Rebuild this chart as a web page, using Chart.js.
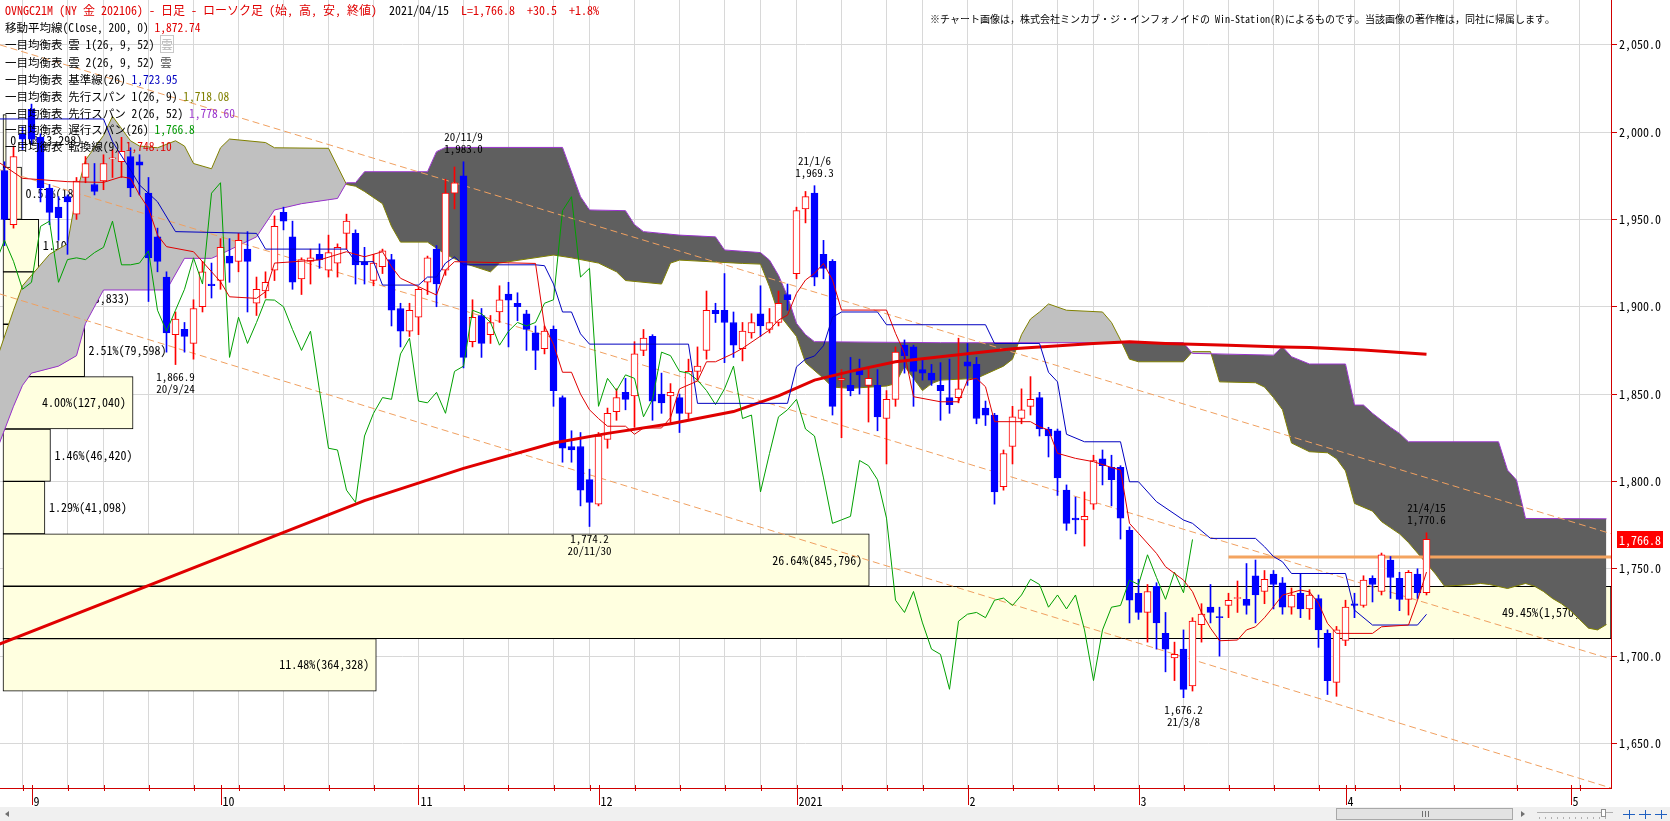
<!DOCTYPE html>
<html lang="ja">
<head>
<meta charset="utf-8">
<title>OVNGC21M 日足 一目均衡表</title>
<script src="https://cdn.jsdelivr.net/npm/chart.js@4.4.1/dist/chart.umd.min.js"></script>
<style>
  html, body { margin: 0; padding: 0; background: #fff; }
  #wrap { position: relative; width: 1670px; height: 821px; overflow: hidden; }
  #chart { position: absolute; left: 0; top: 0; }
  .lg { position: absolute; left: 5px; white-space: pre; font-family: 'Noto Sans Mono CJK JP', 'Noto Sans CJK JP', monospace; font-size: 11.5px; line-height: 14px; color: #000; }
  .r { color: #e00000; }
  .b { color: #0000c0; }
  .o { color: #808000; }
  .p { color: #9933cc; }
  .g { color: #009900; }
  .i1 { color: #b4b4b4; border: 1px solid #c8c8c8; }
  .i2 { color: #505050; }
  #note { position: absolute; left: 930px; top: 12px; white-space: pre; font-family: 'Noto Sans Mono CJK JP', 'Noto Sans CJK JP', sans-serif; font-size: 10px; line-height: 14px; color: #000; }
</style>
</head>
<body>
<div id="wrap">
  <canvas id="chart" width="1670" height="821"></canvas>
  <div class="lg" style="top:3px;font-size:12px"><span class="r">OVNGC21M (NY 金 202106) - 日足 - ローソク足 (始, 高, 安, 終値)</span>  2021/04/15  <span class="r">L=1,766.8  +30.5  +1.8%</span></div>
  <div class="lg" style="top:20px">移動平均線(Close, 200, 0) <span class="r">1,872.74</span></div>
  <div class="lg" style="top:37px">一目均衡表 雲 1(26, 9, 52) <span class="i1">雲</span></div>
  <div class="lg" style="top:55px">一目均衡表 雲 2(26, 9, 52) <span class="i2">雲</span></div>
  <div class="lg" style="top:72px">一目均衡表 基準線(26) <span class="b">1,723.95</span></div>
  <div class="lg" style="top:89px">一目均衡表 先行スパン 1(26, 9) <span class="o">1,718.08</span></div>
  <div class="lg" style="top:106px">一目均衡表 先行スパン 2(26, 52) <span class="p">1,778.60</span></div>
  <div class="lg" style="top:122px">一目均衡表 遅行スパン(26) <span class="g">1,766.8</span></div>
  <div class="lg" style="top:139px">一目均衡表 転換線(9) <span class="r">1,748.10</span></div>
  <div id="note">※チャート画像は，株式会社ミンカブ・ジ・インフォノイドの Win-Station(R)によるものです。当該画像の著作権は，同社に帰属します。</div>
</div>
<script>
// bar index 0 = 2020/09/01, one step per trading day
const firstBar = -3;
const openP = [1978,1947,1999,2013,1997,1968,1957,1963,1953,1974,1970,1972,1984.6,1983,1986,1983,1965,1940,1917,1884,1887,1879,1900,1913,1915,1929,1926,1933,1902,1909,
  1921,1954,1940,1916,1926,1930,1921,1925,1942,1942,1925.5,1915,1923,1927,1899,1886,1894,1914,1933,1921,1965,1975,1880,1895,1884,1897,1907.3,1902,1896,1885,
  1876,1887,1848,1820,1820,1801,1787,1824,1840,1851,1849,1875,1883,1850,1849,1848,1839,1863,1875,1898,1898,1891,1876,1885,1896,1887,1891,1907,1919,1956,
  1965,1930,1926,1858,1855,1864,1855,1855,1836,1847,1878,1877,1864,1862,1855,1848,1848,1868.5,1867,1842,1838,1797,1820,1836,1843,1848,1830,1829,1795,1779,
  1778,1787,1813,1808,1808,1772,1736,1725,1740,1713,1699,1704,1683,1718,1728,1722.7,1729,1733,1732.5,1746,1737,1747,1742,1728,1736,1727,1733,1713,1685,1709,
  1730,1729,1744.5,1737,1755,1744.5,1732.5,1747,1736.3];
const highP = [1983,1992,2003,2016,1999,1970,1963,1964,1974,1986,1982,1987,1990,1997,1991,1987,1974,1945,1920,1897,1891,1904,1926,1925,1939,1939,1942,1943,1917,1920,
  1952,1957,1949,1928,1933,1936,1941,1936,1953,1944,1934,1930,1933,1930,1902,1902,1911,1929,1935,1973,1980,1983,1904,1899,1895,1912,1914,1908,1898,1889,
  1889,1889,1849,1829,1828,1807,1828,1842,1853,1859,1880,1887,1884,1862,1856,1850,1870,1877,1909,1902,1919,1897,1891,1896,1912,1899,1909,1913,1957,1966,
  1969.3,1938,1927,1864,1871,1870,1865,1864,1852,1877,1881,1878,1870,1867,1868,1870,1882,1879,1871,1846,1839,1818,1843,1853,1860,1851,1831,1830,1798,1791,
  1794,1815,1818,1815,1809,1774,1744,1741,1742,1725,1708,1715,1722,1730,1741,1728,1736,1743,1753,1755,1749,1749,1745,1739,1747,1738,1735,1715,1717,1732,
  1736,1746,1746,1759,1757,1748,1749,1750,1770.6];
const lowP = [1935,1945,1990,1993,1960,1947,1938,1930,1950,1971,1964,1967,1974,1974,1963,1964,1903,1920,1874,1866.9,1874,1870,1897,1905,1910,1914,1920,1897,1895,1905,
  1915,1944,1910,1907,1913,1922,1917,1917,1933,1913,1913,1912,1919,1889,1877,1883,1884,1907,1900,1918,1956,1865,1877,1871,1879,1891,1877,1892,1875,1864,
  1873,1843,1811,1811,1786,1774.2,1786,1819,1835,1841,1831,1872,1835,1839,1833,1828,1836,1858,1870,1891,1868,1871,1869,1882,1883,1885,1889,1898,1916,1948,
  1912,1916,1838,1825,1849,1850,1834,1829,1810,1843,1862,1843,1858,1855,1835,1839,1845,1855,1833,1832,1787,1795,1810,1833,1838,1826,1814,1792,1772,1770,
  1763,1784,1798,1786,1767,1719,1721,1708,1704,1691,1686,1676.2,1680,1708,1719,1700,1722,1725,1724,1719,1730,1727,1724,1724,1722,1721,1705,1678,1677,1706,
  1722,1728,1731,1735,1733,1726,1723.5,1733,1735];
const closeP = [1950,1986,1996,1996,1968,1954,1951,1960,1972,1982,1966,1982,1985.3,1989,1968,1981,1928,1926,1885,1893,1883,1899,1920,1912,1934,1925,1938,1926,1910,1914,
  1946,1949,1914,1927,1928,1927,1931,1934,1949,1924,1924,1925,1932,1898,1886,1898,1910,1928,1913,1965,1971,1871,1894,1879,1891,1904,1903.8,1900,1887,1875,
  1886,1852,1819,1818,1795,1788,1826,1839,1848,1847,1873,1882,1846,1845,1851,1839,1863,1866,1898,1896,1891,1878,1886,1891,1889,1891,1902,1904,1955,1963,
  1917,1922,1843,1859,1852,1861,1859,1837,1847,1874,1872,1863,1862,1858,1852,1844,1853,1866,1836,1838,1794,1816,1837,1841,1847,1830,1826,1802,1776,1778,
  1780,1812,1809,1801,1779,1732,1725,1737,1719,1704,1701,1681,1720,1724,1725,1722,1732,1733.2,1729,1735,1744,1741,1728,1735,1727,1735,1715,1686,1715,1728,
  1729,1743.5,1741,1758,1745,1732.5,1748,1736.3,1766.8];

// axis ticks: month starts and week starts (bar index)
const monthTickIdx = [0, 21, 43, 63, 85, 104, 123, 146, 171];
const monthLabels = ['9', '10', '11', '12', '2021', '2', '3', '4', '5'];
const weekTickIdx = [-1, 4, 8, 13, 18, 23, 28, 33, 38, 43, 48, 53, 58, 62, 67, 72, 77, 81, 85, 90, 95, 99, 104, 109, 114, 118, 123, 128, 133, 138, 143, 147, 152, 158, 165, 172];
const priceTicks = [1650, 1700, 1750, 1800, 1850, 1900, 1950, 2000, 2050];

// indicator lines: [bar index, price]
const ma200Pts = [[-4,1706],[37,1789],[48,1807.5],[58,1822],[64,1827.5],[71,1833],[78,1840],[83,1849],[87,1858],[91,1863],[96,1868.5],[101,1871.4],[109,1876],[118,1879],[122,1880],[126,1879],[133,1878],[139,1877],[142,1876.7],[148,1875.2],[155,1872.74]];
const kijunPts = [[-4,2007.5],[8,2007.5],[9,1994.5],[11,1978.3],[12,1969.7],[14,1960.1],[16,1943],[25,1942],[26,1933],[35,1933],[36,1925.8],[38,1925.8],[39,1912.4],[43,1912.4],[44,1917],[45,1917],[46,1925],[47,1928.5],[48,1924],[56,1924],[57,1923.5],[58,1913],[59,1897],[60,1897],[61,1884.5],[62,1878.6],[73,1878.6],[74,1844.7],[84,1844.7],[85,1865.6],[86,1870],[87,1871.8],[88,1877.7],[89,1894],[90,1897],[94,1897],[95,1889.7],[106,1889.7],[107,1879],[112,1879],[113,1862.5],[114,1857],[115,1827],[117,1822.7],[121,1822.7],[122,1799.8],[123,1799.8],[125,1788.4],[128,1777.9],[129,1776],[131,1767.4],[136,1767.4],[137,1762.6],[138,1757],[139,1754],[140,1747.3],[146,1747.3],[147,1726.3],[149,1717.8],[154,1717.8],[155,1723.95]];
const tenkanPts = [[-4,1984],[-1,1973.5],[4,1971.6],[8,1971.2],[10,1974.4],[11,1973.5],[12,1964],[13,1956.3],[14,1941],[15,1934.4],[18,1931.5],[19,1925.8],[21,1914.3],[22,1905.7],[25,1904.8],[26,1908.6],[27,1925],[32,1926.8],[35,1931.5],[37,1928.6],[39,1931.5],[40,1922.9],[41,1916.3],[43,1911.5],[45,1906.7],[46,1921],[47,1925.8],[56,1924.8],[57,1889],[58,1878.5],[59,1862.5],[60,1862.5],[61,1850],[62,1841],[63,1836],[64,1831.6],[66,1831.6],[67,1827],[68,1830.6],[70,1830.6],[71,1836.5],[72,1853],[74,1857.5],[75,1868.5],[76,1868.5],[78,1873.3],[79,1876.2],[82,1886.7],[83,1892.4],[84,1895.2],[85,1907.7],[86,1915.3],[87,1919.1],[88,1924.8],[89,1915.3],[90,1898.1],[95,1898.1],[96,1884.8],[97,1873.3],[98,1848.5],[101,1845.6],[103,1845.6],[104,1858],[105,1859],[106,1854.2],[107,1834.2],[111,1834.2],[112,1831.3],[113,1829.4],[114,1816.1],[116,1813.2],[118,1811.3],[120,1808],[121,1806.5],[122,1776],[123,1770.3],[125,1758.8],[126,1751.2],[128,1743.5],[129,1736.9],[130,1725],[131,1716],[132,1708.8],[134,1709.2],[135,1715],[136,1716.8],[137,1722],[138,1728.3],[139,1734.9],[141,1737.8],[142,1736.8],[143,1730.2],[144,1718.7],[145,1713],[149,1713],[150,1716.8],[153,1717.8],[154,1732],[155,1748.1]];
const spanAPts = [[-4,1868],[-2,1898],[-1,1912],[2,1930],[4,1936],[5,1965],[6,1984],[8,1998],[9,2009],[11,1995],[12,1992],[14,1991],[16,1995],[17,1992],[18,1982],[20,1979],[21,1991],[22,1996],[26,1994],[27,1991],[33,1990.7],[35,1970],[36,1969],[37,1966],[39,1959],[40,1946],[41,1937],[44,1937],[46,1930],[48,1925],[51,1920],[52,1925],[58,1929.6],[60,1928],[63,1925],[65,1920],[66,1915],[70,1913],[71,1925],[72,1926.7],[79,1924.8],[81,1924.4],[82,1911.5],[83,1896],[85,1883],[86,1868],[88,1859],[89,1854],[91,1853.3],[95,1854.6],[96,1856],[97,1866],[99,1852],[100,1856],[101,1858],[105,1859],[108,1866],[109,1870],[110,1884],[111,1893],[112,1897],[113,1901.6],[115,1898],[119,1897],[120,1891],[121,1881],[122,1870],[123,1868.5],[128,1868.5],[129,1874.3],[131,1874.3],[132,1857],[136,1856.5],[137,1854],[138,1848],[139,1841],[140,1822],[142,1817],[144,1816.4],[145,1813],[146,1806],[147,1787.4],[149,1783],[150,1777],[152,1770],[153,1765],[154,1759],[155,1753],[156,1747],[157,1740],[160,1741],[161,1741.6],[162,1741],[164,1738.7],[166,1741.6],[167,1740],[168,1737],[169,1733],[170,1730],[171,1726],[172,1721],[173,1716],[174,1715],[175,1718.08]];
const spanBPts = [[-4,1816],[-2,1843],[-1,1855],[0,1862],[3,1866],[5,1872],[6,1890.5],[8,1909.6],[15,1909.6],[17,1927.7],[20,1927.7],[21,1930],[25,1940],[27,1955.4],[30,1959],[34,1962],[35,1971],[36,1971],[37,1977.3],[44,1977.3],[45,1988.8],[46,1991.2],[59,1991.2],[61,1963],[62,1955.4],[66,1955],[67,1947],[68,1943],[72,1941],[76,1940],[77,1932.5],[81,1931],[82,1926.7],[83,1918],[84,1906],[85,1890.5],[86,1884],[87,1880],[101,1879.4],[128,1879.4],[129,1873.3],[138,1872.3],[139,1877.1],[140,1871.4],[142,1867.2],[146,1867.2],[147,1843.7],[148,1843.7],[149,1839],[150,1835],[151,1831],[152,1827.5],[153,1822.7],[163,1822.7],[164,1806.5],[165,1800.8],[166,1778.8],[175,1778.6]];

// drawn trend lines and the horizontal resistance line
const trendLines = [
  [[-3.5, 2049.9], [175.5, 1770.1]],
  [[-3.5, 1978.4], [175.5, 1698.3]],
  [[-3.5, 1907.3], [175.5, 1624.5]]
];
const resistLine = [[133, 1756.8], [175.5, 1756.8]];

// volume by price (30 wide bins)
const vpBin = 30;
const vpLow = [1980, 1950, 1920, 1890, 1860, 1830, 1800, 1770, 1740, 1710, 1680];
const vpPct = [0.10, 0.57, 1.10, 1.38, 2.51, 4.00, 1.46, 1.29, 26.64, 49.45, 11.48];
const vpVol = [3298, 18097, 34924, 43833, 79598, 127040, 46420, 41098, 845796, 1570010, 364328];

// high / low notes
const hiLoIdx = [48, 87, 155, 16, 62, 128];
const hiLoDate = ['20/11/9', '21/1/6', '21/4/15', '20/9/24', '20/11/30', '21/3/8'];
const hiLoAbove = [true, true, true, false, false, false];

const monoFont = "'Noto Sans Mono CJK JP', 'DejaVu Sans Mono', monospace";
const fmt1 = v => v.toLocaleString('en-US', {minimumFractionDigits: 1, maximumFractionDigits: 1});
const toPts = a => a.map(p => ({x: p[0], y: p[1]}));

const bars = openP.map((_, k) => firstBar + k);
const isUp = closeP.map((c, k) => c >= openP[k]);
const candleColor = isUp.map(u => u ? '#ff0000' : '#0000ff');
const bodyFill = isUp.map(u => u ? '#ffffff' : '#0000ff');
const chikouData = bars.map((x, k) => ({x: x - 26, y: closeP[k]})).filter(p => p.x >= -4);

const weekSet = new Set(weekTickIdx);
const monthMap = new Map(monthTickIdx.map((v, k) => [v, monthLabels[k]]));
const xTickIdx = Array.from(new Set(weekTickIdx.concat(monthTickIdx))).sort((a, b) => a - b);

const yMin = 1624.5, yMax = 2075.6;

const lineDs = (label, data, color, width, order, extra) => Object.assign({
  type: 'line', label: label, data: data, borderColor: color, borderWidth: width,
  pointRadius: 0, tension: 0, fill: false, order: order, xAxisID: 'x', yAxisID: 'y'
}, extra || {});

const decor = {
  id: 'decor',
  afterDatasetDraw(chart, args) {
    if (args.index !== 0) return;
    const {ctx, chartArea} = chart;
    const xs = chart.scales.xv, ys = chart.scales.yv;
    ctx.save();
    ctx.beginPath();
    ctx.rect(chartArea.left, chartArea.top, chartArea.width, chartArea.height);
    ctx.clip();
    ctx.font = '12px ' + monoFont;
    ctx.fillStyle = '#000';
    ctx.textBaseline = 'middle';
    vpLow.forEach((lo, k) => {
      const txt = vpPct[k].toFixed(2) + '%(' + vpVol[k].toLocaleString('en-US') + ')';
      const w = ctx.measureText(txt).width;
      const x0 = xs.getPixelForValue(0), x1 = xs.getPixelForValue(vpPct[k]);
      const y = ys.getPixelForValue(lo + vpBin / 2);
      if (x1 - x0 > w + 12) {
        ctx.textAlign = 'right';
        ctx.fillText(txt, x1 - 7, y);
      } else {
        ctx.textAlign = 'left';
        ctx.fillText(txt, x1 + 4, y);
      }
    });
    ctx.restore();
  },
  afterDatasetsDraw(chart) {
    const {ctx} = chart;
    const x = chart.scales.x, y = chart.scales.y;
    ctx.save();
    ctx.font = '11px ' + monoFont;
    ctx.fillStyle = '#000';
    ctx.textAlign = 'center';
    ctx.textBaseline = 'middle';
    hiLoIdx.forEach((i, n) => {
      const k = i - firstBar;
      const px = x.getPixelForValue(i);
      if (hiLoAbove[n]) {
        const py = y.getPixelForValue(highP[k]);
        ctx.fillText(fmt1(highP[k]), px, py - 13);
        ctx.fillText(hiLoDate[n], px, py - 25);
      } else {
        const py = y.getPixelForValue(lowP[k]);
        ctx.fillText(fmt1(lowP[k]), px, py + 12);
        ctx.fillText(hiLoDate[n], px, py + 24);
      }
    });
    ctx.restore();
  },
  afterDraw(chart) {
    const {ctx, chartArea} = chart;
    const xs = chart.scales.x, ys = chart.scales.y;
    const bottom = chartArea.bottom;
    ctx.save();
    // x tick marks
    ctx.strokeStyle = '#d00000';
    ctx.lineWidth = 1;
    xTickIdx.forEach(v => {
      const px = Math.round(xs.getPixelForValue(v)) + 0.5;
      ctx.beginPath();
      ctx.moveTo(px, bottom - 3);
      ctx.lineTo(px, bottom + (monthMap.has(v) ? 17 : 3));
      ctx.stroke();
    });
    // last price tag
    const last = closeP[closeP.length - 1];
    const py = ys.getPixelForValue(last);
    ctx.fillStyle = '#ff0000';
    ctx.fillRect(chartArea.right + 6, Math.round(py) - 8, 46, 17);
    ctx.fillStyle = '#ffffff';
    ctx.font = '12px ' + monoFont;
    ctx.textAlign = 'left';
    ctx.textBaseline = 'middle';
    ctx.fillText(fmt1(last), chartArea.right + 8, py + 1);
    // scroll bar strip
    const sbTop = bottom + 19, W = chart.width, H = chart.height;
    ctx.fillStyle = '#f0f0f0';
    ctx.fillRect(0, sbTop, W, H - sbTop);
    ctx.fillStyle = '#707070';
    ctx.beginPath();
    ctx.moveTo(5, sbTop + 7); ctx.lineTo(9, sbTop + 4); ctx.lineTo(9, sbTop + 10); ctx.closePath(); ctx.fill();
    const t0 = chartArea.right - 275, t1 = chartArea.right - 98;
    ctx.fillStyle = '#e2e2e2';
    ctx.fillRect(t0, sbTop + 1, t1 - t0, H - sbTop - 2);
    ctx.strokeStyle = '#a8a8a8';
    ctx.strokeRect(t0 + 0.5, sbTop + 1.5, t1 - t0 - 1, H - sbTop - 3);
    ctx.strokeStyle = '#707070';
    [-3, 0, 3].forEach(d => {
      const gx = Math.round((t0 + t1) / 2 + d) + 0.5;
      ctx.beginPath(); ctx.moveTo(gx, sbTop + 4); ctx.lineTo(gx, sbTop + 10); ctx.stroke();
    });
    ctx.fillStyle = '#707070';
    ctx.beginPath();
    ctx.moveTo(t1 + 12, sbTop + 7); ctx.lineTo(t1 + 8, sbTop + 4); ctx.lineTo(t1 + 8, sbTop + 10); ctx.closePath(); ctx.fill();
    ctx.strokeStyle = '#b0b0b0';
    ctx.beginPath(); ctx.moveTo(t1 + 24, sbTop + 5.5); ctx.lineTo(chartArea.right + 2, sbTop + 5.5); ctx.stroke();
    for (let gx = t1 + 26; gx < chartArea.right; gx += 6) {
      ctx.beginPath(); ctx.moveTo(gx + 0.5, sbTop + 10); ctx.lineTo(gx + 0.5, sbTop + 12); ctx.stroke();
    }
    ctx.fillStyle = '#ffffff';
    ctx.fillRect(chartArea.right - 10, sbTop + 2, 5, 8);
    ctx.strokeStyle = '#909090';
    ctx.strokeRect(chartArea.right - 9.5, sbTop + 2.5, 4, 7);
    ctx.strokeStyle = '#2060c0';
    [12, 28, 44].forEach(d => {
      const ix = chartArea.right + d;
      ctx.beginPath(); ctx.moveTo(ix, sbTop + 7.5); ctx.lineTo(ix + 12, sbTop + 7.5); ctx.stroke();
      ctx.beginPath(); ctx.moveTo(ix + 6.5, sbTop + 3); ctx.lineTo(ix + 6.5, sbTop + 12); ctx.stroke();
    });
    ctx.restore();
  }
};

new Chart(document.getElementById('chart'), {
  type: 'bar',
  data: {
    datasets: [
      {
        type: 'bar', label: '価格帯別出来高', indexAxis: 'y', xAxisID: 'xv', yAxisID: 'yv',
        data: vpLow.map((lo, k) => ({y: lo + vpBin / 2, x: [0, vpPct[k]]})),
        backgroundColor: '#ffffe0', borderColor: '#000000', borderWidth: 1, borderSkipped: false,
        categoryPercentage: 1, barPercentage: 1, grouped: false, order: 20
      },
      lineDs('先行スパン1', toPts(spanAPts), '#808000', 1, 19, {fill: {target: 2, above: '#c0c0c0', below: '#5f5f5f'}}),
      lineDs('先行スパン2', toPts(spanBPts), '#9933cc', 1, 18),
      lineDs('トレンド1', toPts(trendLines[0]), '#f0a060', 1, 17, {borderDash: [7, 4]}),
      lineDs('トレンド2', toPts(trendLines[1]), '#f0a060', 1, 17, {borderDash: [7, 4]}),
      lineDs('トレンド3', toPts(trendLines[2]), '#f0a060', 1, 17, {borderDash: [7, 4]}),
      lineDs('抵抗線', toPts(resistLine), '#f4a460', 3, 16),
      {
        type: 'bar', label: 'ヒゲ', xAxisID: 'x', yAxisID: 'y',
        data: bars.map((x, k) => ({x: x, y: [lowP[k], highP[k]]})),
        backgroundColor: candleColor, borderWidth: 0, barThickness: 1, grouped: false, order: 15
      },
      {
        type: 'bar', label: 'ローソク足', xAxisID: 'x', yAxisID: 'y',
        data: bars.map((x, k) => ({x: x, y: [openP[k], closeP[k]]})),
        backgroundColor: bodyFill, borderColor: candleColor, borderWidth: 1, borderSkipped: false,
        barThickness: 7, grouped: false, minBarLength: 1, order: 14
      },
      lineDs('移動平均線(200)', toPts(ma200Pts), '#e00000', 3, 13),
      lineDs('遅行スパン', chikouData, '#00a000', 1, 12),
      lineDs('基準線', toPts(kijunPts), '#0000c0', 1, 11),
      lineDs('転換線', toPts(tenkanPts), '#e00000', 1, 10)
    ]
  },
  options: {
    responsive: false,
    animation: false,
    devicePixelRatio: 1,
    layout: {padding: 0},
    plugins: {legend: {display: false}, tooltip: {enabled: false}},
    scales: {
      x: {
        type: 'linear', position: 'bottom', min: -3.5, max: 175.5, offset: false,
        afterBuildTicks: s => { s.ticks = xTickIdx.map(v => ({value: v})); },
        afterFit: s => { s.height = 33; s.paddingLeft = 0; s.paddingRight = 0; },
        grid: {
          offset: false, drawTicks: false, lineWidth: 1,
          color: c => (c.tick && weekSet.has(c.tick.value)) ? '#d8d8d8' : 'rgba(0,0,0,0)'
        },
        border: {display: true, color: '#d00000', width: 1},
        ticks: {
          autoSkip: false, maxRotation: 0, align: 'start', labelOffset: 2, padding: 6,
          color: '#000', font: {family: monoFont, size: 12},
          callback: v => monthMap.get(v) || ''
        }
      },
      y: {
        type: 'linear', position: 'right', min: yMin, max: yMax,
        afterBuildTicks: s => { s.ticks = priceTicks.map(v => ({value: v})); },
        afterFit: s => { s.width = 59; s.paddingTop = 0; s.paddingBottom = 0; },
        grid: {color: '#d8d8d8', tickColor: '#d00000', tickLength: 6, lineWidth: 1},
        border: {display: true, color: '#d00000', width: 1},
        ticks: {padding: 2, color: '#000', font: {family: monoFont, size: 12}, callback: v => fmt1(v)}
      },
      xv: {type: 'linear', display: false, min: -0.092, max: 49.45, offset: false},
      yv: {
        type: 'linear', display: false, min: yMin, max: yMax, offset: false,
        afterBuildTicks: s => { s.ticks = vpLow.map(v => ({value: v})); }
      }
    }
  },
  plugins: [decor]
});
</script>
</body>
</html>
